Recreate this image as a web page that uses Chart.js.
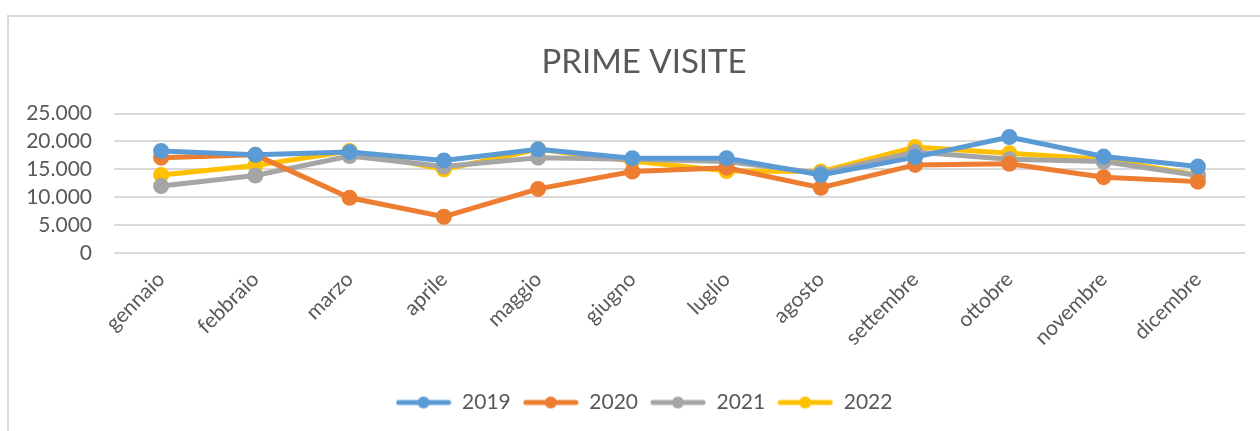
<!DOCTYPE html>
<html lang="it">
  <head>
    <meta charset="UTF-8" />
    <title>Prime visite</title>
    <script src="https://cdn.jsdelivr.net/npm/chart.js@4"></script>
    <style>
      html, body { margin: 0; padding: 0; background: #fff; }
      #wrap { position: relative; width: 1260px; height: 431px; }
      #frame {
        position: absolute; left: 7px; top: 15px; width: 1260px; height: 420px;
        border: 2px solid #d9d9d9; box-sizing: border-box;
      }
      canvas { position: absolute; left: 0; top: 0; }
    </style>
  </head>
  <body>
    <div id="wrap">
      <div id="frame"></div>
      <canvas id="myChart" width="1260" height="431"></canvas>
    </div>

    <script>
      const mesi = ['gennaio', 'febbraio', 'marzo', 'aprile', 'maggio', 'giugno',
        'luglio', 'agosto', 'settembre', 'ottobre', 'novembre', 'dicembre'];

      const anni = ['2019', '2020', '2021', '2022'];
      const colori = ['#5B9BD5', '#ED7D31', '#A5A5A5', '#FFC000'];

      const v2019 = [18300, 17600, 18100, 16600, 18600, 17000, 17000, 14000, 17200, 20800, 17300, 15500];
      const v2020 = [17100, 17600, 9900, 6500, 11500, 14600, 15300, 11700, 15800, 16000, 13600, 12800];
      const v2021 = [12000, 13900, 17400, 15500, 17100, 16800, 16400, 14300, 18100, 16800, 16400, 13900];
      const v2022 = [14000, 15700, 18300, 15000, 18600, 16500, 14700, 14600, 19000, 17900, 16800, 14000];

      const yTicks = [0, 5000, 10000, 15000, 20000, 25000];

      const serie = [v2019, v2020, v2021, v2022];
      const grigio = '#595959';
      const font = 'Lato, Carlito, "Open Sans", sans-serif';

      // legend marker: line with a dot in the middle, like Excel
      function marker(col) {
        const c = document.createElement('canvas');
        c.width = 56; c.height = 14;
        const g = c.getContext('2d');
        g.strokeStyle = col; g.lineWidth = 5; g.lineCap = 'round';
        g.beginPath(); g.moveTo(3, 7); g.lineTo(53, 7); g.stroke();
        g.fillStyle = col;
        g.beginPath(); g.arc(28, 7, 6, 0, Math.PI * 2); g.fill();
        return c;
      }

      function fmt(v) {
        return String(v).replace(/\B(?=(\d{3})+(?!\d))/g, '.');
      }

      // Excel centres title and legend a bit right of the canvas middle
      const shiftBoxes = {
        id: 'shiftBoxes',
        afterLayout(chart) {
          if (chart.titleBlock) chart.titleBlock.left += 33;
          if (chart.legend) chart.legend.left += 33;
        }
      };

      const ctx = document.getElementById('myChart').getContext('2d');
      const chart = new Chart(ctx, {
        type: 'line',
        data: {
          labels: mesi,
          datasets: anni.map((a, i) => ({
            label: a,
            data: serie[i],
            borderColor: colori[i],
            backgroundColor: colori[i],
            borderWidth: 5,
            pointRadius: 5.5,
            pointHoverRadius: 5.5,
            pointStyle: 'circle',
            fill: false,
            tension: 0
          }))
        },
        plugins: [shiftBoxes],
        options: {
          responsive: false,
          animation: false,
          layout: { padding: { left: 10, right: 15, top: 16, bottom: 8 } },
          plugins: {
            title: {
              display: true,
              text: 'PRIME VISITE',
              color: grigio,
              font: { family: font, size: 33, weight: 'normal' },
              padding: { top: 27, bottom: 31 }
            },
            legend: {
              position: 'bottom',
              labels: {
                color: grigio,
                font: { family: font, size: 21 },
                usePointStyle: true,
                pointStyleWidth: 56,
                padding: 12,
                generateLabels: (c) => c.data.datasets.map((d, i) => ({
                  text: d.label,
                  fillStyle: colori[i],
                  strokeStyle: colori[i],
                  pointStyle: marker(colori[i]),
                  fontColor: grigio,
                  datasetIndex: i
                }))
              }
            },
            tooltip: { enabled: false }
          },
          scales: {
            x: {
              offset: true,
              grid: { display: false },
              border: { display: false },
              ticks: {
                color: grigio,
                font: { family: font, size: 21 },
                maxRotation: 45,
                minRotation: 45,
                padding: 6
              },
              afterFit: (s) => { s.height = 127; }
            },
            y: {
              min: 0,
              max: 25000,
              afterBuildTicks: (s) => { s.ticks = yTicks.map(v => ({ value: v })); },
              grid: { color: '#d9d9d9', lineWidth: 2, drawTicks: false },
              border: { display: false },
              ticks: {
                color: grigio,
                font: { family: font, size: 21 },
                padding: 22,
                autoSkip: false,
                callback: (v) => fmt(v)
              },
              afterFit: (s) => { s.width = 104; }
            }
          }
        }
      });
    </script>
  </body>
</html>
